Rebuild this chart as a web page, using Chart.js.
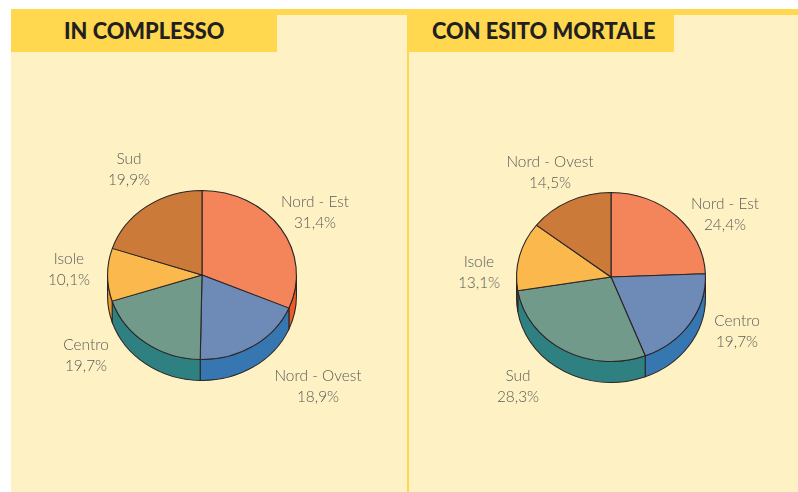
<!DOCTYPE html>
<html>
<head>
<meta charset="utf-8">
<script src="https://cdn.jsdelivr.net/npm/chart.js@4.4.1/dist/chart.umd.min.js"></script>
<style>
  html, body { margin: 0; padding: 0; background: #fff; }
  body { width: 798px; height: 492px; position: relative; overflow: hidden; font-family: Lato, "Open Sans", sans-serif; }
  .stripe { position: absolute; left: 11px; top: 9px; width: 787px; height: 6px; background: #ffd84f; }
  .panel { position: absolute; top: 15px; height: 477px; background: #fef2c4; }
  .divider { position: absolute; left: 407px; top: 9px; width: 2px; height: 483px; background: #ffd84f; }
  .head { position: absolute; height: 43px; background: #ffd84f; color: #231f20; font-weight: 900; font-size: 21.8px; line-height: 43px; white-space: nowrap; }
  .head span { position: absolute; top: 0; }
  .chartbox { position: absolute; width: 220px; height: 240px; }
  .lbl { position: absolute; transform: translate(-50%, -50%); color: #5a5a5a; font-size: 15.4px; line-height: 21px; text-align: center; white-space: nowrap; font-weight: 300; }
</style>
</head>
<body>
<div class="stripe"></div>
<div class="panel" style="left:11px; width:397px;"></div>
<div class="panel" style="left:409px; width:389px;"></div>
<div class="divider"></div>
<div class="head" style="left:11px; top:9px; width:266px;"><span id="leftHead" style="left:53px;"></span></div>
<div class="head" style="left:409px; top:9px; width:265px;"><span id="rightHead" style="left:23px;"></span></div>

<div class="chartbox" style="left:92px; top:165px;"><canvas id="pieLeft" width="220" height="240"></canvas></div>
<div class="chartbox" style="left:501px; top:167px;"><canvas id="pieRight" width="220" height="240"></canvas></div>

<div id="labels"></div>

<script>
// data
const leftTitle = "IN COMPLESSO";
const leftRegions = ["Nord - Est", "Nord - Ovest", "Centro", "Isole", "Sud"];
const leftValues = [31.4, 18.9, 19.7, 10.1, 19.9];

const rightTitle = "CON ESITO MORTALE";
const rightRegions = ["Nord - Est", "Centro", "Sud", "Isole", "Nord - Ovest"];
const rightValues = [24.4, 19.7, 28.3, 13.1, 14.5];

// styles (slice colours go by position, not by region)
const topColors = ["#f4845a", "#6e8bb8", "#729a8a", "#fbb84c", "#cc7a3a"];
const sideColors = ["#f05a22", "#3677b1", "#2f8080", "#e79a30", "#a85a25"];
const outline = "#2b2626";
const squash = 0.895;
const depth = 21;

// label spots, page pixels (centre of the two-line block)
const leftLabelPos = [[315, 212], [318, 386], [86, 355], [69, 269], [129, 169]];
const rightLabelPos = [[725, 214], [737, 331], [518, 386], [479, 272], [550, 172]];

document.getElementById("leftHead").textContent = leftTitle;
document.getElementById("rightHead").textContent = rightTitle;

function pct(v) {
  return v.toFixed(1).replace(".", ",") + "%";
}

const tiltPlugin = {
  id: "tilt",
  beforeDatasetsDraw(chart) {
    const ctx = chart.ctx;
    const meta = chart.getDatasetMeta(0);
    const cx = meta.data[0].x, cy = meta.data[0].y;
    ctx.save();
    ctx.translate(cx, cy);
    ctx.scale(1, squash);
    ctx.translate(-cx, -cy);
    const d = depth / squash;
    meta.data.forEach(function(arc, i) {
      const a0 = Math.max(arc.startAngle, 0);
      const a1 = Math.min(arc.endAngle, Math.PI);
      if (a1 <= a0) return;
      const r = arc.outerRadius;
      ctx.beginPath();
      ctx.arc(cx, cy, r, a0, a1);
      ctx.arc(cx, cy + d, r, a1, a0, true);
      ctx.closePath();
      ctx.fillStyle = sideColors[i];
      ctx.fill();
      ctx.lineWidth = 1.1;
      ctx.strokeStyle = outline;
      ctx.stroke();
    });
  },
  afterDatasetsDraw(chart) {
    chart.ctx.restore();
  }
};

function makePie(id, regions, values) {
  return new Chart(document.getElementById(id), {
    type: "pie",
    data: {
      labels: regions,
      datasets: [{
        data: values,
        backgroundColor: topColors,
        borderColor: outline,
        borderWidth: 1.1,
        hoverOffset: 0,
        offset: 0
      }]
    },
    options: {
      responsive: false,
      animation: false,
      events: [],
      layout: { padding: { left: 15, right: 15, top: 15, bottom: 35 } },
      plugins: { legend: { display: false }, tooltip: { enabled: false } }
    },
    plugins: [tiltPlugin]
  });
}

makePie("pieLeft", leftRegions, leftValues);
makePie("pieRight", rightRegions, rightValues);

function addLabels(regions, values, pos) {
  const box = document.getElementById("labels");
  regions.forEach(function(name, i) {
    const el = document.createElement("div");
    el.className = "lbl";
    el.style.left = pos[i][0] + "px";
    el.style.top = pos[i][1] + "px";
    el.innerHTML = name + "<br>" + pct(values[i]);
    box.appendChild(el);
  });
}
addLabels(leftRegions, leftValues, leftLabelPos);
addLabels(rightRegions, rightValues, rightLabelPos);
</script>
</body>
</html>
